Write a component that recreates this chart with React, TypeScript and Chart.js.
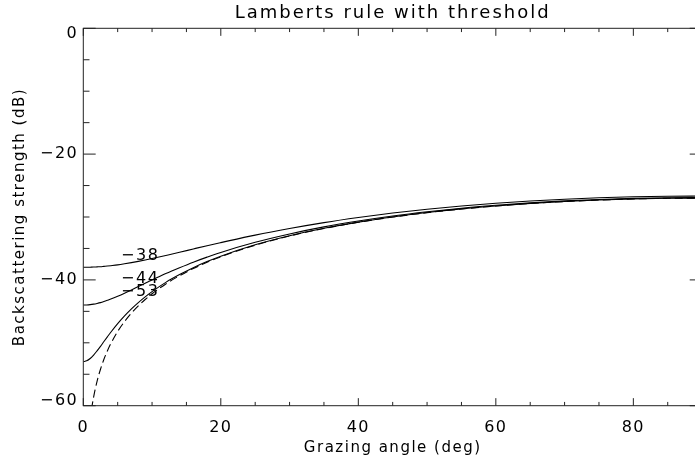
import { useEffect, useRef } from 'react';
import { Chart, registerables } from 'chart.js';

Chart.register(...registerables);

const FONT = '"DejaVu Sans", sans-serif';

const chartTitle = 'Lamberts rule with threshold';
const xAxisTitle = 'Grazing angle (deg)';
const yAxisTitle = 'Backscattering strength (dB)';

const xTickLabels = ['0', '20', '40', '60', '80'];
const yTickLabels = ['0', '−20', '−40', '−60'];

const angles = [0, 0.5, 1, 1.5, 2, 2.5, 3, 3.5, 4, 5, 6, 7, 8, 9, 10, 12, 14, 16, 18, 20, 25, 30, 35, 40, 45, 50, 55, 60, 65, 70, 75, 80, 85, 90];

const lambert = [null, -68.18, -62.16, -58.64, -56.14, -54.21, -52.62, -51.29, -50.13, -48.19, -46.62, -45.28, -44.13, -43.11, -42.21, -40.64, -39.33, -38.19, -37.2, -36.32, -34.48, -33.02, -31.83, -30.84, -30.01, -29.31, -28.73, -28.25, -27.85, -27.54, -27.3, -27.13, -27.03, -27.0];

const thr38 = [-38.0, -38.0, -37.98, -37.96, -37.93, -37.9, -37.85, -37.8, -37.74, -37.61, -37.44, -37.25, -37.05, -36.83, -36.6, -36.11, -35.61, -35.08, -34.56, -34.07, -32.88, -31.83, -30.89, -30.08, -29.37, -28.76, -28.24, -27.81, -27.45, -27.17, -26.95, -26.79, -26.7, -26.67];

const thr44 = [-44.0, -43.98, -43.93, -43.85, -43.74, -43.61, -43.44, -43.25, -43.05, -42.6, -42.11, -41.59, -41.05, -40.52, -40.01, -38.99, -38.06, -37.18, -36.38, -35.63, -34.02, -32.69, -31.57, -30.64, -29.84, -29.17, -28.6, -28.14, -27.75, -27.44, -27.21, -27.04, -26.94, -26.91];

const thr53 = [-53.0, -52.87, -52.5, -51.95, -51.28, -50.56, -49.8, -49.05, -48.32, -46.95, -45.72, -44.6, -43.6, -42.69, -41.86, -40.39, -39.15, -38.05, -37.09, -36.23, -34.42, -32.98, -31.8, -30.81, -29.99, -29.29, -28.71, -28.24, -27.84, -27.53, -27.29, -27.12, -27.02, -26.99];

const curveLabels = ['−38', '−44', '−53'];
const curveLabelX = [5.5, 5.5, 5.5];
const curveLabelY = [-36.86, -40.47, -42.58];

const toPoints = (ys: (number | null)[]) => angles.map((a, i) => ({ x: a, y: ys[i] }));

const decorPlugin = {
  id: 'idlDecor',
  beforeDraw(chart: any) {
    (chart.ctx as any).letterSpacing = '1.5px';
  },
  afterDraw(chart: any) {
    const { ctx, chartArea } = chart;
    const xs = chart.scales.x;
    const ys = chart.scales.y;
    const { left, right, top, bottom } = chartArea;
    ctx.save();
    ctx.strokeStyle = '#222';
    ctx.lineWidth = 1;
    ctx.strokeRect(left, top, right - left, bottom - top);
    const hMaj = (right - left) * 0.02;
    const vMaj = (bottom - top) * 0.02;
    ctx.beginPath();
    xs.ticks.forEach((t: any) => {
      const px = xs.getPixelForValue(t.value);
      const len = t.value % 20 === 0 ? vMaj : vMaj / 2;
      ctx.moveTo(px, bottom);
      ctx.lineTo(px, bottom - len);
      ctx.moveTo(px, top);
      ctx.lineTo(px, top + len);
    });
    ys.ticks.forEach((t: any) => {
      const py = ys.getPixelForValue(t.value);
      const len = t.value % 20 === 0 ? hMaj : hMaj / 2;
      ctx.moveTo(left, py);
      ctx.lineTo(left + len, py);
      ctx.moveTo(right, py);
      ctx.lineTo(right - len, py);
    });
    ctx.stroke();

    ctx.fillStyle = '#000';
    ctx.letterSpacing = '1.5px';
    ctx.font = `16px ${FONT}`;
    ctx.textAlign = 'left';
    ctx.textBaseline = 'alphabetic';
    curveLabels.forEach((txt, i) => {
      ctx.fillText(txt, xs.getPixelForValue(curveLabelX[i]), ys.getPixelForValue(curveLabelY[i]));
    });

    ctx.letterSpacing = '2px';
    ctx.font = `18px ${FONT}`;
    ctx.textAlign = 'center';
    ctx.fillText(chartTitle, (left + right) / 2, 18);
    ctx.restore();
  },
};

const yTickCallback = (v: any) => {
  if (v % 20 !== 0) return '';
  const label = yTickLabels[-v / 20] ?? '';
  if (v === 0) return ['', label];
  if (v === -60) return [label, ''];
  return label;
};

export default function App() {
  const ref = useRef<HTMLCanvasElement>(null);
  useEffect(() => {
    const line = (data: any, dash: number[] = []) => ({
      data,
      borderColor: '#000',
      borderWidth: 1.1,
      borderDash: dash,
      pointRadius: 0,
      fill: false,
      cubicInterpolationMode: 'monotone' as const,
    });
    const chart = new Chart(ref.current as HTMLCanvasElement, {
      type: 'line',
      data: {
        datasets: [
          line(toPoints(thr38)),
          line(toPoints(thr44)),
          line(toPoints(thr53)),
          line(toPoints(lambert), [8, 4]),
        ],
      },
      options: {
        responsive: false,
        animation: false,
        devicePixelRatio: 1,
        layout: { padding: { top: 28.3, right: 17.9, left: 0, bottom: 0 } },
        plugins: {
          legend: { display: false },
          tooltip: { enabled: false },
          title: { display: false },
        },
        scales: {
          x: {
            type: 'linear',
            min: 0,
            max: 90,
            afterFit: (s: any) => {
              s.height = 59.3;
            },
            grid: { display: false, drawTicks: false },
            border: { display: false },
            ticks: {
              stepSize: 5,
              autoSkip: false,
              maxRotation: 0,
              padding: 13,
              color: '#000',
              font: { family: FONT, size: 16 },
              callback: (v: any) => (v % 20 === 0 ? xTickLabels[v / 20] ?? '' : ''),
            },
            title: {
              display: true,
              text: xAxisTitle,
              color: '#000',
              font: { family: FONT, size: 15 },
              padding: { top: 0, bottom: 8 },
            },
          },
          y: {
            type: 'linear',
            min: -60,
            max: 0,
            afterFit: (s: any) => {
              s.width = 83.3;
            },
            grid: { display: false, drawTicks: false },
            border: { display: false },
            ticks: {
              stepSize: 5,
              autoSkip: false,
              padding: 5,
              color: '#000',
              font: { family: FONT, size: 16, lineHeight: 0.65 },
              callback: yTickCallback,
            },
            title: {
              display: true,
              text: yAxisTitle,
              color: '#000',
              font: { family: FONT, size: 15 },
              padding: { top: 11, bottom: 0 },
            },
          },
        },
      },
      plugins: [decorPlugin],
    } as any);
    return () => chart.destroy();
  }, []);
  return (
    <div style={{ position: 'fixed', left: 0, top: 0, width: 695, height: 465, overflow: 'hidden', background: '#fff' }}>
      <canvas ref={ref} width={720} height={465} style={{ display: 'block', width: 720, height: 465 }} />
    </div>
  );
}
